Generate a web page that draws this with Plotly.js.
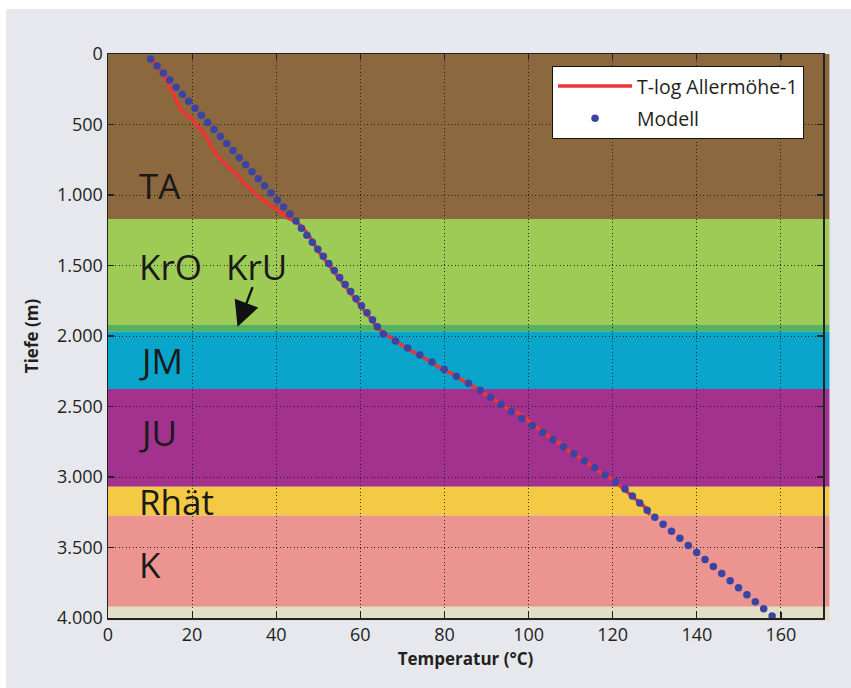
<!DOCTYPE html>
<html>
<head>
<meta charset="utf-8">
<script src="https://cdn.plot.ly/plotly-3.0.1.min.js"></script>
<style>
  html, body { margin: 0; padding: 0; background: #ffffff; width: 851px; height: 688px; overflow: hidden; }
  #chart { position: absolute; left: 6px; top: 9px; width: 845px; height: 679px; }
</style>
</head>
<body>
<div id="chart"></div>
<script>
// ---- Data ----
// Geological layers (depth in m)
const layerNames  = ['TA', 'KrO', 'KrU', 'JM', 'JU', 'Rhät', 'K', ''];
const layerTop    = [0, 1170, 1920, 1970, 2375, 3070, 3275, 3920];
const layerBottom = [1170, 1920, 1970, 2375, 3070, 3275, 3920, 4000];

// Measured temperature log (T-log Allermöhe-1)
const tlogDepth = [25, 43, 113, 208, 279, 385, 421, 456, 515, 551, 610, 704, 752, 811, 846, 905, 953, 1000, 1047, 1094, 1130, 1165, 1189, 1236, 1296,
  1400, 1500, 1600, 1700, 1780, 1900, 1950, 1981, 2040, 2095, 2135, 2182, 2241, 2265, 2293, 2336, 2388, 2418, 2477, 2525, 2548, 2619, 2726, 2761,
  2820, 2879, 2974, 3021, 3080, 3163, 3222, 3270];
const tlogTemp = [10.0, 10.7, 12.3, 14.3, 15.5, 17.1, 18.2, 19.8, 21.4, 22.6, 23.8, 25.4, 27.0, 28.9, 30.5, 32.1, 33.7, 35.3, 37.3, 39.6, 41.6, 42.8, 44.8, 46.4, 48.0,
  50.0, 52.5, 55.2, 57.8, 59.9, 63.2, 64.3, 65.8, 68.6, 71.3, 74.1, 76.5, 79.7, 81.7, 82.9, 85.6, 88.4, 90.4, 93.2, 95.5, 97.9, 100.7, 105.4, 107.4,
  109.8, 113.0, 117.3, 120.1, 122.5, 125.7, 128.0, 128.8];

// Model (Modell)
const modelDepth = [35, 85, 135, 185, 235, 285, 335, 385, 435, 485, 535, 585, 635, 685, 735, 785, 835, 885, 935, 985,
  1035, 1085, 1135, 1185, 1235, 1285, 1335, 1385, 1435, 1485, 1535, 1585, 1635, 1685, 1735, 1785, 1835, 1885, 1935, 1985,
  2035, 2085, 2135, 2185, 2235, 2285, 2335, 2385, 2435, 2485, 2535, 2585, 2635, 2685, 2735, 2785, 2835, 2885, 2935, 2985,
  3035, 3085, 3135, 3185, 3235, 3285, 3335, 3385, 3435, 3485, 3535, 3585, 3635, 3685, 3735, 3785, 3835, 3885, 3935, 3985];
const modelTemp = [10.15, 11.66, 13.16, 14.67, 16.17, 17.68, 19.18, 20.69, 22.19, 23.69, 25.20, 26.70, 28.21, 29.71, 31.22, 32.72, 34.23, 35.73, 37.23, 38.74,
  40.24, 41.75, 43.25, 44.69, 45.99, 47.29, 48.59, 49.89, 51.19, 52.49, 53.79, 55.09, 56.39, 57.69, 58.99, 60.29, 61.59, 62.89, 64.04, 65.47,
  68.36, 71.25, 74.14, 77.03, 79.92, 82.81, 85.70, 88.50, 90.97, 93.45, 95.92, 98.40, 100.87, 103.35, 105.82, 108.30, 110.77, 113.25, 115.72, 118.20,
  120.67, 122.93, 124.68, 126.44, 128.19, 130.00, 131.99, 133.98, 135.97, 137.97, 139.96, 141.95, 143.94, 145.93, 147.93, 149.92, 151.91, 153.90, 155.90, 157.90];

// Axis ranges
const xRange = [0, 170];
const yRange = [4000, 0];

// ---- Styles ----
const layerColors = ['#8c683f', '#9dcb56', '#56b15c', '#08a4ca', '#a3328f', '#f4c944', '#ec9590', '#e1dfc5'];
const FONT = 'Open Sans, Noto Sans, sans-serif';
const TXT = '#231f20';

function depthToPaper(d) { return (yRange[0] - d) / (yRange[0] - yRange[1]); }

const shapes = layerNames.map((n, i) => ({
  type: 'rect', xref: 'paper', yref: 'paper', layer: 'below',
  x0: 0, x1: 1.009,
  y0: depthToPaper(layerTop[i]),
  y1: i === layerNames.length - 1 ? -0.005 : depthToPaper(layerBottom[i]),
  fillcolor: layerColors[i], line: { width: 0 }
}));

const labelPos = { 'TA': 936, 'KrO': 1508, 'JM': 2174, 'JU': 2681, 'Rhät': 3177, 'K': 3624 };
const annotations = Object.keys(labelPos).map(k => ({
  x: 7, y: labelPos[k], xref: 'x', yref: 'y', xanchor: 'left', yanchor: 'middle',
  text: k, showarrow: false, font: { family: FONT, size: 35, color: '#1a1a1a' }
}));
annotations.push({
  x: 27.5, y: 1508, xref: 'x', yref: 'y', xanchor: 'left', yanchor: 'middle',
  text: 'KrU', showarrow: false, font: { family: FONT, size: 35, color: '#1a1a1a' }
});
annotations.push({
  x: 30.8, y: 1934, xref: 'x', yref: 'y', ax: 15.6, ay: -41, axref: 'pixel', ayref: 'pixel',
  text: '', showarrow: true, arrowhead: 2, arrowsize: 2.1, arrowwidth: 2.4, arrowcolor: '#111'
});

const traces = [
  {
    x: tlogTemp, y: tlogDepth, type: 'scatter', mode: 'lines', name: 'T-log Allermöhe-1',
    line: { color: '#ee3535', width: 3.5 }, legendgroup: 'a'
  },
  {
    x: modelTemp, y: modelDepth, type: 'scatter', mode: 'markers', name: 'Modell',
    marker: { color: '#3b44a2', size: 7.5 }, legendgroup: 'b', cliponaxis: false
  }
];

const axisCommon = {
  ticks: 'inside', ticklen: 6, tickwidth: 1.2, tickcolor: '#222',
  showline: true, linecolor: '#222', linewidth: 1.5, mirror: 'allticks',
  showgrid: true, gridcolor: 'rgba(30,30,30,0.9)', griddash: '1px,2.5px', gridwidth: 1,
  zeroline: false, tickfont: { family: FONT, size: 18, color: TXT }
};

const layout = {
  width: 845, height: 679,
  margin: { l: 102, r: 28, t: 45, b: 70 },
  paper_bgcolor: '#e7e8ee', plot_bgcolor: 'rgba(0,0,0,0)',
  separators: ',.',
  font: { family: FONT, color: TXT },
  xaxis: Object.assign({}, axisCommon, {
    range: xRange, dtick: 20, tick0: 0,
    title: { text: 'Temperatur (°C)', font: { family: FONT, size: 17, color: TXT, weight: 'bold' }, standoff: 8 }
  }),
  yaxis: Object.assign({}, axisCommon, {
    range: yRange, dtick: 500, tick0: 0, separatethousands: true,
    title: { text: 'Tiefe (m)', font: { family: FONT, size: 17, color: TXT, weight: 'bold' }, standoff: 14 }
  }),
  legend: {
    x: 0.621, y: 0.979, xanchor: 'left', yanchor: 'top',
    bgcolor: '#ffffff', bordercolor: '#111', borderwidth: 1,
    font: { family: FONT, size: 19.5, color: TXT },
    traceorder: 'grouped', tracegroupgap: 4, itemwidth: 74
  },
  shapes: shapes,
  annotations: annotations,
  showlegend: true
};

Plotly.newPlot('chart', traces, layout, { displayModeBar: false, staticPlot: true });
</script>
</body>
</html>
